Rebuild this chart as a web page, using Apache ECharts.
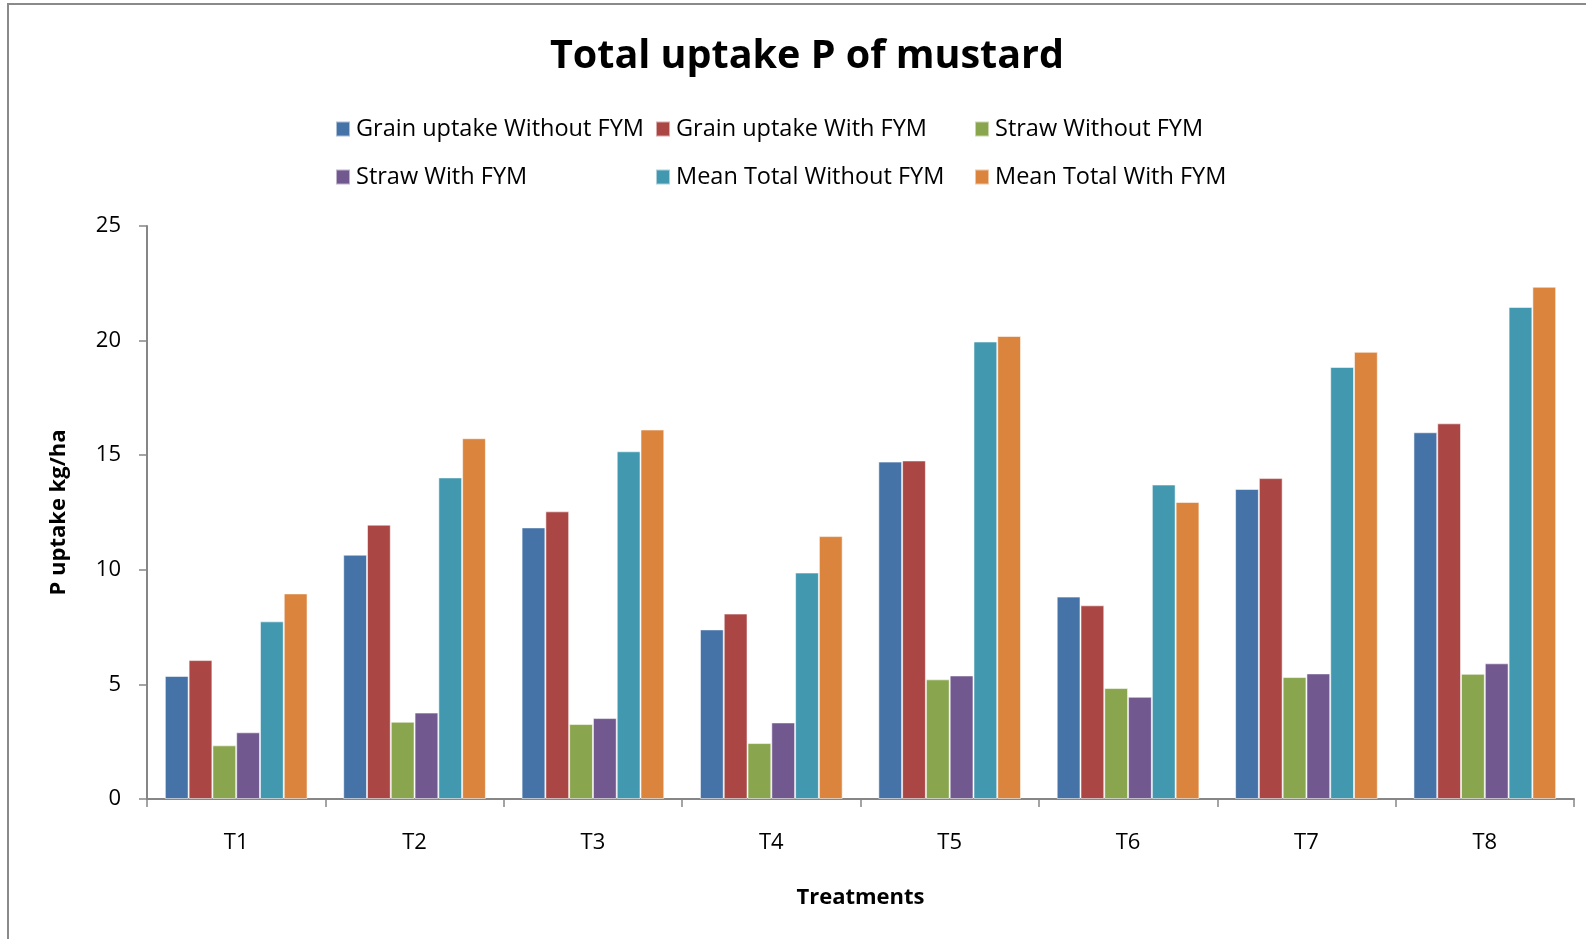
<!DOCTYPE html>
<html>
<head>
<meta charset="utf-8">
<script src="https://cdn.jsdelivr.net/npm/echarts@6/dist/echarts.min.js"></script>
<style>
  html, body { margin: 0; padding: 0; background: #fff; }
  #chart { width: 1586px; height: 939px; }
</style>
</head>
<body>
<div id="chart"></div>
<script>
// Treatments on the x axis
const categories = ['T1', 'T2', 'T3', 'T4', 'T5', 'T6', 'T7', 'T8'];

// P uptake (kg/ha) per treatment
const grainWithoutFYM = [5.37, 10.66, 11.85, 7.40, 14.72, 8.83, 13.53, 16.00];
const grainWithFYM    = [6.06, 11.97, 12.55, 8.09, 14.77, 8.45, 14.00, 16.39];
const strawWithoutFYM = [2.34, 3.37, 3.27, 2.44, 5.22, 4.84, 5.32, 5.46];
const strawWithFYM    = [2.91, 3.77, 3.53, 3.34, 5.39, 4.46, 5.48, 5.92];
const meanTotalWithoutFYM = [7.75, 14.03, 15.17, 9.88, 19.96, 13.72, 18.85, 21.47];
const meanTotalWithFYM    = [8.97, 15.74, 16.12, 11.47, 20.20, 12.96, 19.51, 22.35];

const seriesNames = [
  'Grain uptake Without FYM', 'Grain uptake With FYM', 'Straw Without FYM',
  'Straw With FYM', 'Mean Total Without FYM', 'Mean Total With FYM'
];
const seriesData = [grainWithoutFYM, grainWithFYM, strawWithoutFYM,
  strawWithFYM, meanTotalWithoutFYM, meanTotalWithFYM];
const colors = ['#4572A7', '#AA4643', '#89A54E', '#71588F', '#4198AF', '#DB843D'];

const FONT = '"Open Sans", "Noto Sans", sans-serif';
const chart = echarts.init(document.getElementById('chart'), null, { renderer: 'canvas' });

// three legend columns, two rows each
const legendBase = {
  orient: 'vertical',
  top: 112,
  itemWidth: 14,
  itemHeight: 15,
  itemGap: 24,
  icon: 'rect',
  selectedMode: false,
  textStyle: { fontFamily: FONT, fontSize: 23.5, color: '#000', padding: [0, 0, 0, 1] }
};

chart.setOption({
  animation: false,
  color: colors,
  graphic: [{
    type: 'rect',
    shape: { x: 8, y: 4, width: 1600, height: 960 },
    style: { fill: 'none', stroke: '#8a8a8a', lineWidth: 2 },
    silent: true
  }],
  title: {
    text: 'Total uptake P of mustard',
    left: 802,
    textAlign: 'center',
    top: 32,
    textStyle: { fontFamily: FONT, fontSize: 39.5, fontWeight: 'bold', color: '#000' }
  },
  legend: [
    Object.assign({}, legendBase, { left: 330, data: [seriesNames[0], seriesNames[3]] }),
    Object.assign({}, legendBase, { left: 650, data: [seriesNames[1], seriesNames[4]] }),
    Object.assign({}, legendBase, { left: 969, data: [seriesNames[2], seriesNames[5]] })
  ],
  grid: { left: 147, right: 12, top: 226, bottom: 140, containLabel: false },
  xAxis: {
    type: 'category',
    data: categories,
    name: 'Treatments',
    nameLocation: 'middle',
    nameGap: 88,
    nameTextStyle: { fontFamily: FONT, fontSize: 22, fontWeight: 'bold', color: '#000' },
    axisLine: { lineStyle: { color: '#868686', width: 2 } },
    axisTick: { show: true, length: 8, inside: false, lineStyle: { color: '#868686', width: 1.5 } },
    axisLabel: { fontFamily: FONT, fontSize: 22, color: '#000', margin: 33 }
  },
  yAxis: {
    type: 'value',
    min: 0,
    max: 25,
    interval: 5,
    name: 'P uptake kg/ha',
    nameLocation: 'middle',
    nameGap: 77,
    nameRotate: 90,
    nameTextStyle: { fontFamily: FONT, fontSize: 22, fontWeight: 'bold', color: '#000' },
    axisLine: { show: true, lineStyle: { color: '#868686', width: 2 } },
    axisTick: { show: true, length: 8, lineStyle: { color: '#868686', width: 1.5 } },
    axisLabel: { fontFamily: FONT, fontSize: 22, color: '#000', margin: 26 },
    splitLine: { show: false }
  },
  series: seriesNames.map((name, i) => ({
    name: name,
    type: 'bar',
    data: seriesData[i],
    barGap: '0%',
    barCategoryGap: '20%',
    itemStyle: { color: colors[i], borderColor: 'rgba(255,255,255,0.55)', borderWidth: 1 }
  }))
});
</script>
</body>
</html>
